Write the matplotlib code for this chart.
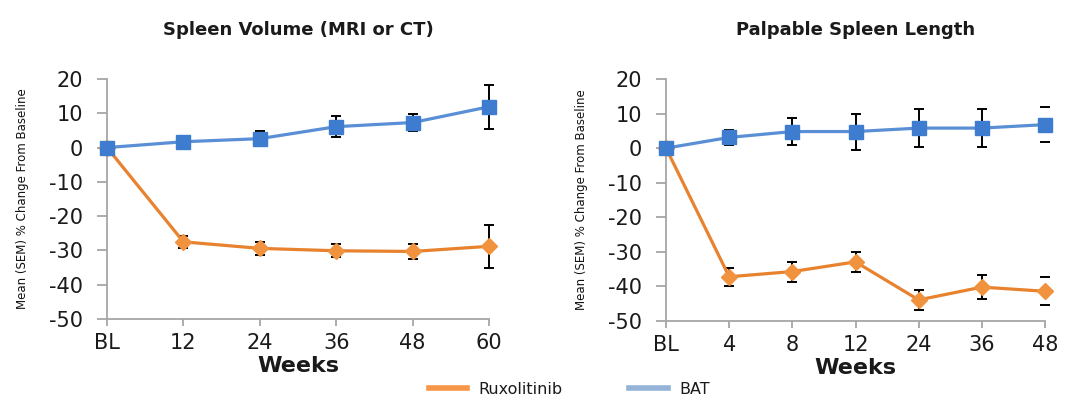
import matplotlib
matplotlib.use("Agg")
import matplotlib.pyplot as plt
from matplotlib.lines import Line2D

plt.rcParams["axes.unicode_minus"] = False

# Data
left_title = "Spleen Volume (MRI or CT)"
left_weeks = ["BL", "12", "24", "36", "48", "60"]
left_rux = [0, -27.5, -29.4, -30.1, -30.3, -28.8]
left_rux_err = [0, 1.7, 1.8, 1.9, 2.3, 6.2]
left_bat = [0, 1.7, 2.6, 6.1, 7.3, 11.9]
left_bat_err = [0, 1.6, 2.1, 3.0, 2.4, 6.4]

right_title = "Palpable Spleen Length"
right_weeks = ["BL", "4", "8", "12", "24", "36", "48"]
right_rux = [0, -37.2, -35.7, -32.9, -43.9, -40.2, -41.4]
right_rux_err = [0, 2.6, 2.9, 3.0, 3.0, 3.4, 4.1]
right_bat = [0, 3.1, 4.8, 4.8, 5.8, 5.8, 6.8]
right_bat_err = [0, 2.1, 3.9, 5.2, 5.5, 5.5, 5.0]

ylabel = "Mean (SEM) % Change From Baseline"
xlabel = "Weeks"
legend_labels = ["Ruxolitinib", "BAT"]

RUX_LINE = "#E8822E"
RUX_MARK = "#F0923E"
BAT_LINE = "#5A8FD6"
BAT_MARK = "#3D7CCF"
RUX_LEG = "#F79646"
BAT_LEG = "#95B3D7"
SPINE = "#A6A6A6"
TXT = "#1a1a1a"

fig = plt.figure(figsize=(10.8, 3.99), dpi=100)
ax1 = fig.add_axes([0.0991, 0.2005, 0.3537, 0.6015])
ax2 = fig.add_axes([0.6167, 0.1955, 0.3509, 0.6065])

def draw(ax, weeks, rux, rux_err, bat, bat_err, title, hide_last_bar=False):
    x = list(range(len(weeks)))
    r = ax.errorbar(x, rux, yerr=rux_err, color=RUX_LINE, lw=2.3, marker="D",
                    ms=8, mfc=RUX_MARK, mec=RUX_MARK, ecolor="black", elinewidth=1.4,
                    capsize=3.5, capthick=1.4, clip_on=False, zorder=3)
    b = ax.errorbar(x, bat, yerr=bat_err, color=BAT_LINE, lw=2.3, marker="s",
                    ms=10, mfc=BAT_MARK, mec=BAT_MARK, ecolor="black", elinewidth=1.4,
                    capsize=3.5, capthick=1.4, clip_on=False, zorder=4)
    if hide_last_bar:
        for eb in (r, b):
            cols = ["black"] * len(x)
            cols[-1] = (0, 0, 0, 0)
            eb[2][0].set_colors(cols)
    ax.set_xlim(0, len(weeks) - 1)
    ax.set_ylim(-50, 20)
    ax.set_yticks(range(-50, 21, 10))
    ax.set_xticks(x)
    ax.set_xticklabels(weeks)
    for s in ["top", "right"]:
        ax.spines[s].set_visible(False)
    for s in ["left", "bottom"]:
        ax.spines[s].set_color(SPINE)
        ax.spines[s].set_linewidth(1.3)
    ax.tick_params(axis="both", colors=SPINE, width=1.3,
                   labelcolor=TXT, labelsize=15)
    ax.tick_params(axis="x", length=5, pad=5)
    ax.tick_params(axis="y", length=7.5, pad=10)
    ax.set_xlabel(xlabel, fontsize=16, fontweight="bold", color=TXT, labelpad=2)
    ax.set_ylabel(ylabel, fontsize=8.5, fontfamily="DejaVu Sans Condensed",
                  color="#111111", labelpad=14)
    ax.set_title(title, fontsize=13, fontweight="bold", pad=32, color=TXT)

draw(ax1, left_weeks, left_rux, left_rux_err, left_bat, left_bat_err, left_title)
draw(ax2, right_weeks, right_rux, right_rux_err, right_bat, right_bat_err,
     right_title, hide_last_bar=True)

handles = [Line2D([0], [0], color=RUX_LEG, lw=4),
           Line2D([0], [0], color=BAT_LEG, lw=4)]
fig.legend(handles, legend_labels, loc="lower center",
           bbox_to_anchor=(0.527, -0.03), ncol=2, frameon=False,
           fontsize=11.5, handlelength=2.4, columnspacing=4.2, handletextpad=0.7,
           labelcolor=TXT)

fig.savefig("out.png", dpi=100)
